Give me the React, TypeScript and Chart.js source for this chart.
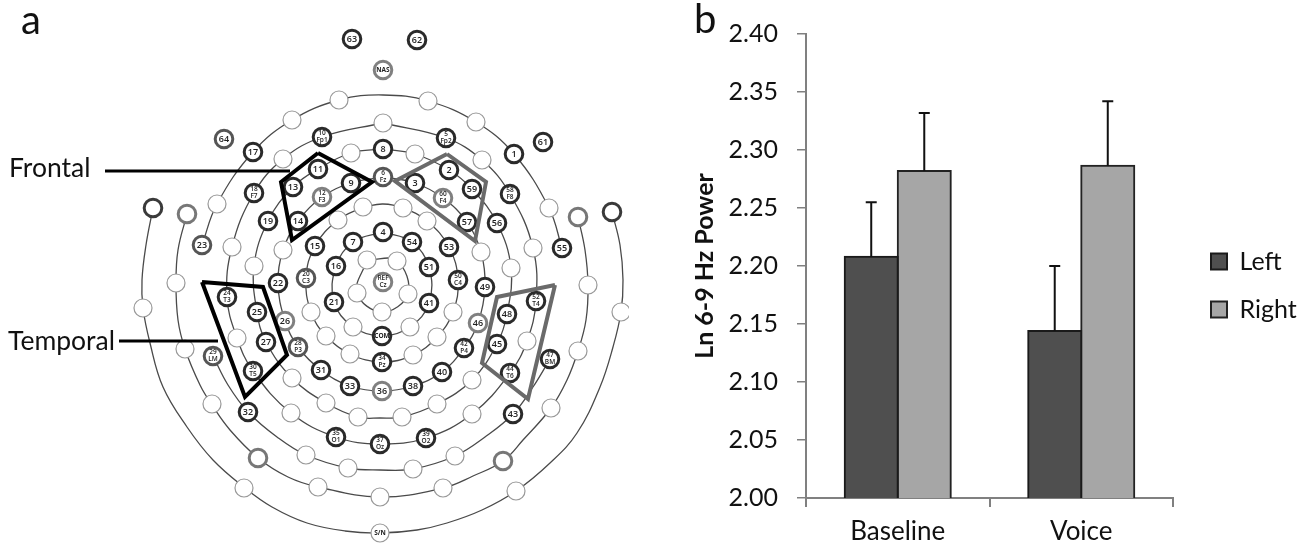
import React, { useEffect, useRef } from "react";
import { Chart, registerables } from "chart.js";

Chart.register(...registerables);

type Elec = [string, number, number];
type Pt = [number, number];

// ---------- panel b data ----------
const categories = ["Baseline", "Voice"];
const leftValues = [2.208, 2.144];
const rightValues = [2.282, 2.2865];
const leftUpper = [2.255, 2.2];
const rightUpper = [2.332, 2.342];
const yTicks = [2.0, 2.05, 2.1, 2.15, 2.2, 2.25, 2.3, 2.35, 2.4];

// ---------- panel a data (map coordinates) ----------
const darkElectrodes: Elec[] = [
  ["63", 352, 39], ["62", 417, 40], ["17", 253, 152], ["10\nFp1", 322, 137], ["8", 383, 149],
  ["11", 318, 169], ["9", 351, 183], ["13", 293, 187], ["18\nF7", 254, 193], ["19", 268, 221],
  ["14", 298, 221], ["15", 315, 246], ["7", 353, 242], ["4", 383, 232], ["16", 336, 266],
  ["22", 278, 283], ["5\nFp2", 446, 138], ["61", 543, 142], ["1", 514, 154], ["2", 449, 170],
  ["3", 415, 183], ["59", 472, 189], ["58\nF8", 510, 194], ["57", 467, 222], ["56", 497, 223],
  ["54", 412, 242], ["53", 449, 247], ["55", 562, 248], ["51", 429, 267], ["50\nC4", 458, 280],
  ["49", 485, 287], ["21", 334, 302], ["41", 429, 303], ["24\nT3", 227, 297], ["25", 257, 312],
  ["27", 266, 342], ["COM", 382, 336], ["34\nPz", 382, 362], ["31", 321, 370], ["30\nT5", 253, 371],
  ["33", 350, 386], ["32", 248, 412], ["35\nO1", 336, 437], ["37\nOz", 380, 444], ["39\nO2", 426, 438],
  ["38", 413, 386], ["40", 442, 372], ["42\nP4", 464, 348], ["43", 513, 414], ["44\nT6", 510, 373],
  ["45", 497, 344], ["48", 507, 314], ["52\nT4", 536, 301], ["47\nBM", 550, 359],
];
const midElectrodes: Elec[] = [
  ["64", 224, 139], ["23", 202, 245], ["6\nFz", 383, 177], ["20\nC3", 306, 278],
  ["29\nLM", 213, 356], ["28\nP3", 298, 347],
];
const lightElectrodes: Elec[] = [
  ["NAS", 383, 70], ["12\nF3", 322, 197], ["60\nF4", 443, 198], ["REF\nCz", 383, 282],
  ["26", 285, 321], ["46", 478, 323], ["36", 382, 391],
];
const openElectrodes: Pt[] = [
  [339, 100], [292, 120], [428, 101], [476, 122], [383, 123], [283, 159], [482, 160], [351, 153],
  [415, 154], [217, 204], [549, 208], [363, 207], [403, 208], [338, 220], [427, 221], [232, 247],
  [283, 250], [481, 252], [533, 248], [367, 260], [397, 261], [254, 266], [511, 268], [176, 283],
  [588, 285], [357, 293], [408, 294], [143, 308], [311, 312], [382, 312], [453, 312], [621, 312],
  [353, 327], [410, 327], [326, 336], [437, 337], [237, 338], [527, 341], [185, 349], [578, 351],
  [350, 354], [413, 355], [292, 378], [472, 380], [326, 403], [437, 404], [212, 404], [551, 408],
  [291, 413], [472, 414], [358, 417], [402, 417], [306, 455], [455, 456], [348, 468], [413, 469],
  [318, 487], [443, 488], [244, 488], [516, 491], [380, 497],
];
const snElectrode: Elec[] = [["S/N", 380, 533]];
const darkRings: Pt[] = [[153, 208], [612, 212]];
const midRings: Pt[] = [[187, 214], [578, 217], [258, 458], [503, 461]];

const ring1: Pt[] = [[367, 260], [397, 261], [408, 294], [382, 312], [357, 293], [367, 260]];
const ring2: Pt[] = [[383, 232], [412, 242], [429, 267], [429, 303], [410, 327], [382, 336], [353, 327], [334, 302], [336, 266], [353, 242], [383, 232]];
const ring3: Pt[] = [[363, 207], [383, 204], [403, 208], [427, 221], [449, 247], [458, 280], [453, 312], [437, 337], [413, 355], [382, 362], [350, 354], [326, 336], [311, 312], [306, 278], [315, 246], [338, 220], [363, 207]];
const ring4: Pt[] = [[383, 177], [415, 183], [443, 198], [467, 222], [481, 252], [485, 287], [478, 323], [464, 348], [442, 372], [413, 386], [382, 391], [350, 386], [321, 370], [298, 347], [285, 321], [278, 283], [283, 250], [298, 221], [322, 197], [351, 183], [383, 177]];
const ring5: Pt[] = [[383, 149], [415, 154], [449, 170], [472, 189], [497, 223], [511, 268], [507, 314], [497, 344], [472, 380], [437, 404], [402, 417], [380, 418], [358, 417], [326, 403], [292, 378], [266, 342], [257, 312], [254, 266], [268, 221], [293, 187], [318, 169], [351, 153], [383, 149]];
const ring6: Pt[] = [[383, 123], [446, 138], [482, 160], [510, 194], [533, 248], [536, 301], [527, 341], [510, 373], [472, 414], [426, 438], [380, 444], [336, 437], [291, 413], [253, 371], [237, 338], [227, 297], [232, 247], [254, 193], [283, 159], [322, 137], [383, 123]];
const ring7Top: Pt[] = [[202, 245], [217, 204], [253, 152], [292, 120], [339, 100], [383, 95], [428, 101], [476, 122], [514, 154], [549, 208], [562, 248]];
const ring7Bottom: Pt[] = [[213, 356], [228, 385], [248, 412], [277, 437], [306, 455], [348, 468], [380, 470], [413, 469], [455, 456], [485, 437], [513, 414], [533, 387], [550, 359]];
const ring8: Pt[] = [[187, 214], [178, 250], [176, 283], [178, 320], [185, 349], [200, 385], [212, 405], [230, 430], [258, 458], [288, 477], [318, 487], [380, 497], [443, 488], [473, 476], [503, 461], [523, 440], [551, 408], [567, 380], [578, 351], [586, 320], [588, 285], [585, 250], [578, 217]];
const ring9: Pt[] = [[153, 208], [146, 245], [142, 280], [143, 308], [150, 343], [163, 387], [187, 427], [213, 460], [245, 488], [272, 507], [307, 523], [345, 531], [380, 533], [417, 530], [447, 523], [482, 510], [516, 491], [550, 463], [577, 433], [600, 387], [613, 347], [621, 312], [623, 280], [620, 245], [612, 212]];

const frontalLeft: Pt[] = [[318, 153], [372, 182], [292, 240], [281, 182], [318, 153]];
const frontalRight: Pt[] = [[447, 154], [486, 182], [475, 241], [395, 181], [447, 154]];
const temporalLeft: Pt[] = [[202, 282], [263, 287], [287, 355], [245, 397], [202, 282]];
const temporalRight: Pt[] = [[555, 285], [497, 297], [482, 363], [528, 399], [555, 285]];
const frontalLeader: Pt[] = [[105, 171], [290, 171]];
const temporalLeader: Pt[] = [[119, 341], [218, 341]];

const mapTexts: Elec[] = [["Frontal", 9, 177], ["Temporal", 8, 350]];

const FONT = "Lato, 'Open Sans', sans-serif";
const toXY = (p: Pt[]) => p.map(([x, y]) => ({ x, y }));
const elecXY = (e: Elec[]) => e.map(([, x, y]) => ({ x, y }));

const ringSet = (d: Pt[]) => ({
  data: toXY(d), showLine: true, pointRadius: 0, borderColor: "#4a4a4a", borderWidth: 1.3,
  tension: 0.4, order: 10, fill: false,
});
const polySet = (d: Pt[], color: string) => ({
  data: toXY(d), showLine: true, pointRadius: 0, borderColor: color, borderWidth: 4,
  tension: 0, order: 1, fill: false, borderJoinStyle: "miter",
});
const leadSet = (d: Pt[]) => ({
  data: toXY(d), showLine: true, pointRadius: 0, borderColor: "#000", borderWidth: 3,
  tension: 0, order: 2, fill: false,
});
const dotSet = (d: { x: number; y: number }[], color: string, r: number, w: number) => ({
  data: d, showLine: false, pointRadius: r, pointBackgroundColor: "#fff", pointBorderColor: color,
  pointBorderWidth: w, order: 5,
});

const mapLabels = {
  id: "mapLabels",
  afterDatasetsDraw(chart: any) {
    const { ctx, scales } = chart;
    const sx = scales.x, sy = scales.y;
    ctx.save();
    ctx.textAlign = "center";
    ctx.textBaseline = "middle";
    ctx.fillStyle = "#222";
    const all = [...darkElectrodes, ...midElectrodes, ...lightElectrodes, ...snElectrode];
    for (const [label, x, y] of all) {
      const px = sx.getPixelForValue(x), py = sy.getPixelForValue(y);
      const parts = label.split("\n");
      if (parts.length === 2) {
        ctx.font = `600 6.5px 'Open Sans', sans-serif`;
        ctx.fillText(parts[0], px, py - 3.4);
        ctx.fillText(parts[1], px, py + 3.4);
      } else {
        ctx.font = label.length === 3 ? `700 6.5px 'Open Sans', sans-serif` : `600 9px 'Open Sans', sans-serif`;
        ctx.fillText(label, px, py);
      }
    }
    ctx.textAlign = "left";
    ctx.textBaseline = "alphabetic";
    ctx.fillStyle = "#111";
    ctx.font = `26.5px ${FONT}`;
    for (const [t, x, y] of mapTexts) ctx.fillText(t, sx.getPixelForValue(x), sy.getPixelForValue(y));
    ctx.font = `40px ${FONT}`;
    ctx.fillText("a", sx.getPixelForValue(21), sy.getPixelForValue(34));
    ctx.restore();
  },
};

const errorBars = {
  id: "errorBars",
  afterDatasetsDraw(chart: any) {
    const { ctx, scales } = chart;
    const uppers = [leftUpper, rightUpper];
    ctx.save();
    ctx.strokeStyle = "#111";
    ctx.lineWidth = 2;
    uppers.forEach((u, di) => {
      chart.getDatasetMeta(di).data.forEach((bar: any, i: number) => {
        const y0 = bar.y, y1 = scales.y.getPixelForValue(u[i]);
        ctx.beginPath();
        ctx.moveTo(bar.x, y0);
        ctx.lineTo(bar.x, y1);
        ctx.moveTo(bar.x - 5.5, y1);
        ctx.lineTo(bar.x + 5.5, y1);
        ctx.stroke();
      });
    });
    ctx.fillStyle = "#111";
    ctx.font = `40px ${FONT}`;
    ctx.textAlign = "left";
    ctx.fillText("b", 4, 33);
    ctx.restore();
  },
};

const placeLegend = {
  id: "placeLegend",
  afterLayout(chart: any) {
    const l = chart.legend;
    const pad = l.options.labels.padding;
    const w = l.width, h = l.height;
    l.left = 521 - pad;
    l.right = l.left + w;
    l.top = 249 - pad;
    l.bottom = l.top + h;
    l.adjustHitBoxes();
  },
};

export default function App() {
  const mapRef = useRef<HTMLCanvasElement>(null);
  const barRef = useRef<HTMLCanvasElement>(null);

  useEffect(() => {
    const mapChart = new Chart(mapRef.current as HTMLCanvasElement, {
      type: "scatter",
      data: {
        datasets: [
          ...[ring1, ring2, ring3, ring4, ring5, ring6, ring7Top, ring7Bottom, ring8, ring9].map(ringSet),
          dotSet(toXY(openElectrodes), "#999", 9, 1.2),
          dotSet(elecXY(snElectrode), "#999", 9, 1.2),
          dotSet(elecXY(darkElectrodes), "#2a2a2a", 8.8, 3),
          dotSet(elecXY(midElectrodes), "#555", 8.8, 3),
          dotSet(elecXY(lightElectrodes), "#808080", 8.8, 3),
          dotSet(toXY(darkRings), "#3a3a3a", 8.8, 3),
          dotSet(toXY(midRings), "#777", 8.8, 3),
          polySet(frontalLeft, "#000"),
          polySet(temporalLeft, "#000"),
          polySet(frontalRight, "#6a6a6a"),
          polySet(temporalRight, "#6a6a6a"),
          leadSet(frontalLeader),
          leadSet(temporalLeader),
        ] as any,
      },
      options: {
        responsive: false,
        animation: false,
        layout: { padding: 0, autoPadding: false },
        plugins: { legend: { display: false }, tooltip: { enabled: false } },
        scales: {
          x: { type: "linear", min: 0, max: 629, display: false },
          y: { type: "linear", min: 0, max: 547, reverse: true, display: false },
        },
      },
      plugins: [mapLabels],
    } as any);

    const barChart = new Chart(barRef.current as HTMLCanvasElement, {
      type: "bar",
      data: {
        labels: categories,
        datasets: [
          { label: "Left", data: leftValues, backgroundColor: "#4f4f4f", borderColor: "#1a1a1a", borderWidth: 2, inflateAmount: 1 },
          { label: "Right", data: rightValues, backgroundColor: "#a6a6a6", borderColor: "#222", borderWidth: 2, inflateAmount: 1 },
        ],
      },
      options: {
        responsive: false,
        animation: false,
        layout: { padding: { left: 0, top: 33, right: 133, bottom: 0 } },
        datasets: { bar: { barPercentage: 1, categoryPercentage: 0.578 } },
        plugins: {
          tooltip: { enabled: false },
          legend: {
            position: "chartArea",
            align: "start",
            labels: { boxWidth: 16, boxHeight: 16, padding: 23, color: "#111", font: { family: FONT, size: 25 } },
          },
        },
        scales: {
          x: {
            afterFit: (s: any) => { s.height = 49; },
            border: { color: "#808080", width: 2 },
            grid: { drawOnChartArea: false, color: "#808080", tickLength: 9, lineWidth: 2 },
            ticks: { color: "#111", padding: 9, maxRotation: 0, font: { family: FONT, size: 26 } },
          },
          y: {
            min: 2,
            max: 2.4,
            afterFit: (s: any) => { s.width = 116; },
            afterBuildTicks: (s: any) => { s.ticks = yTicks.map((value) => ({ value })); },
            border: { color: "#808080", width: 2 },
            grid: { drawOnChartArea: false, color: "#808080", tickLength: 9, lineWidth: 1.5 },
            ticks: { color: "#111", padding: 19, font: { family: FONT, size: 25 }, callback: (v: any) => Number(v).toFixed(2) },
            title: {
              display: true,
              text: "Ln 6-9 Hz Power",
              color: "#111",
              padding: { top: 0, bottom: 0 },
              font: { family: FONT, size: 25, weight: "bold" },
            },
          },
        },
      },
      plugins: [errorBars, placeLegend],
    } as any);

    return () => {
      mapChart.destroy();
      barChart.destroy();
    };
  }, []);

  return (
    <div style={{ position: "fixed", left: 0, top: 0, width: 1306, height: 547, background: "#fff", overflow: "hidden" }}>
      <canvas ref={mapRef} width={629} height={547} style={{ position: "absolute", left: 0, top: 0, display: "block" }} />
      <canvas ref={barRef} width={616} height={547} style={{ position: "absolute", left: 690, top: 0, display: "block" }} />
    </div>
  );
}
